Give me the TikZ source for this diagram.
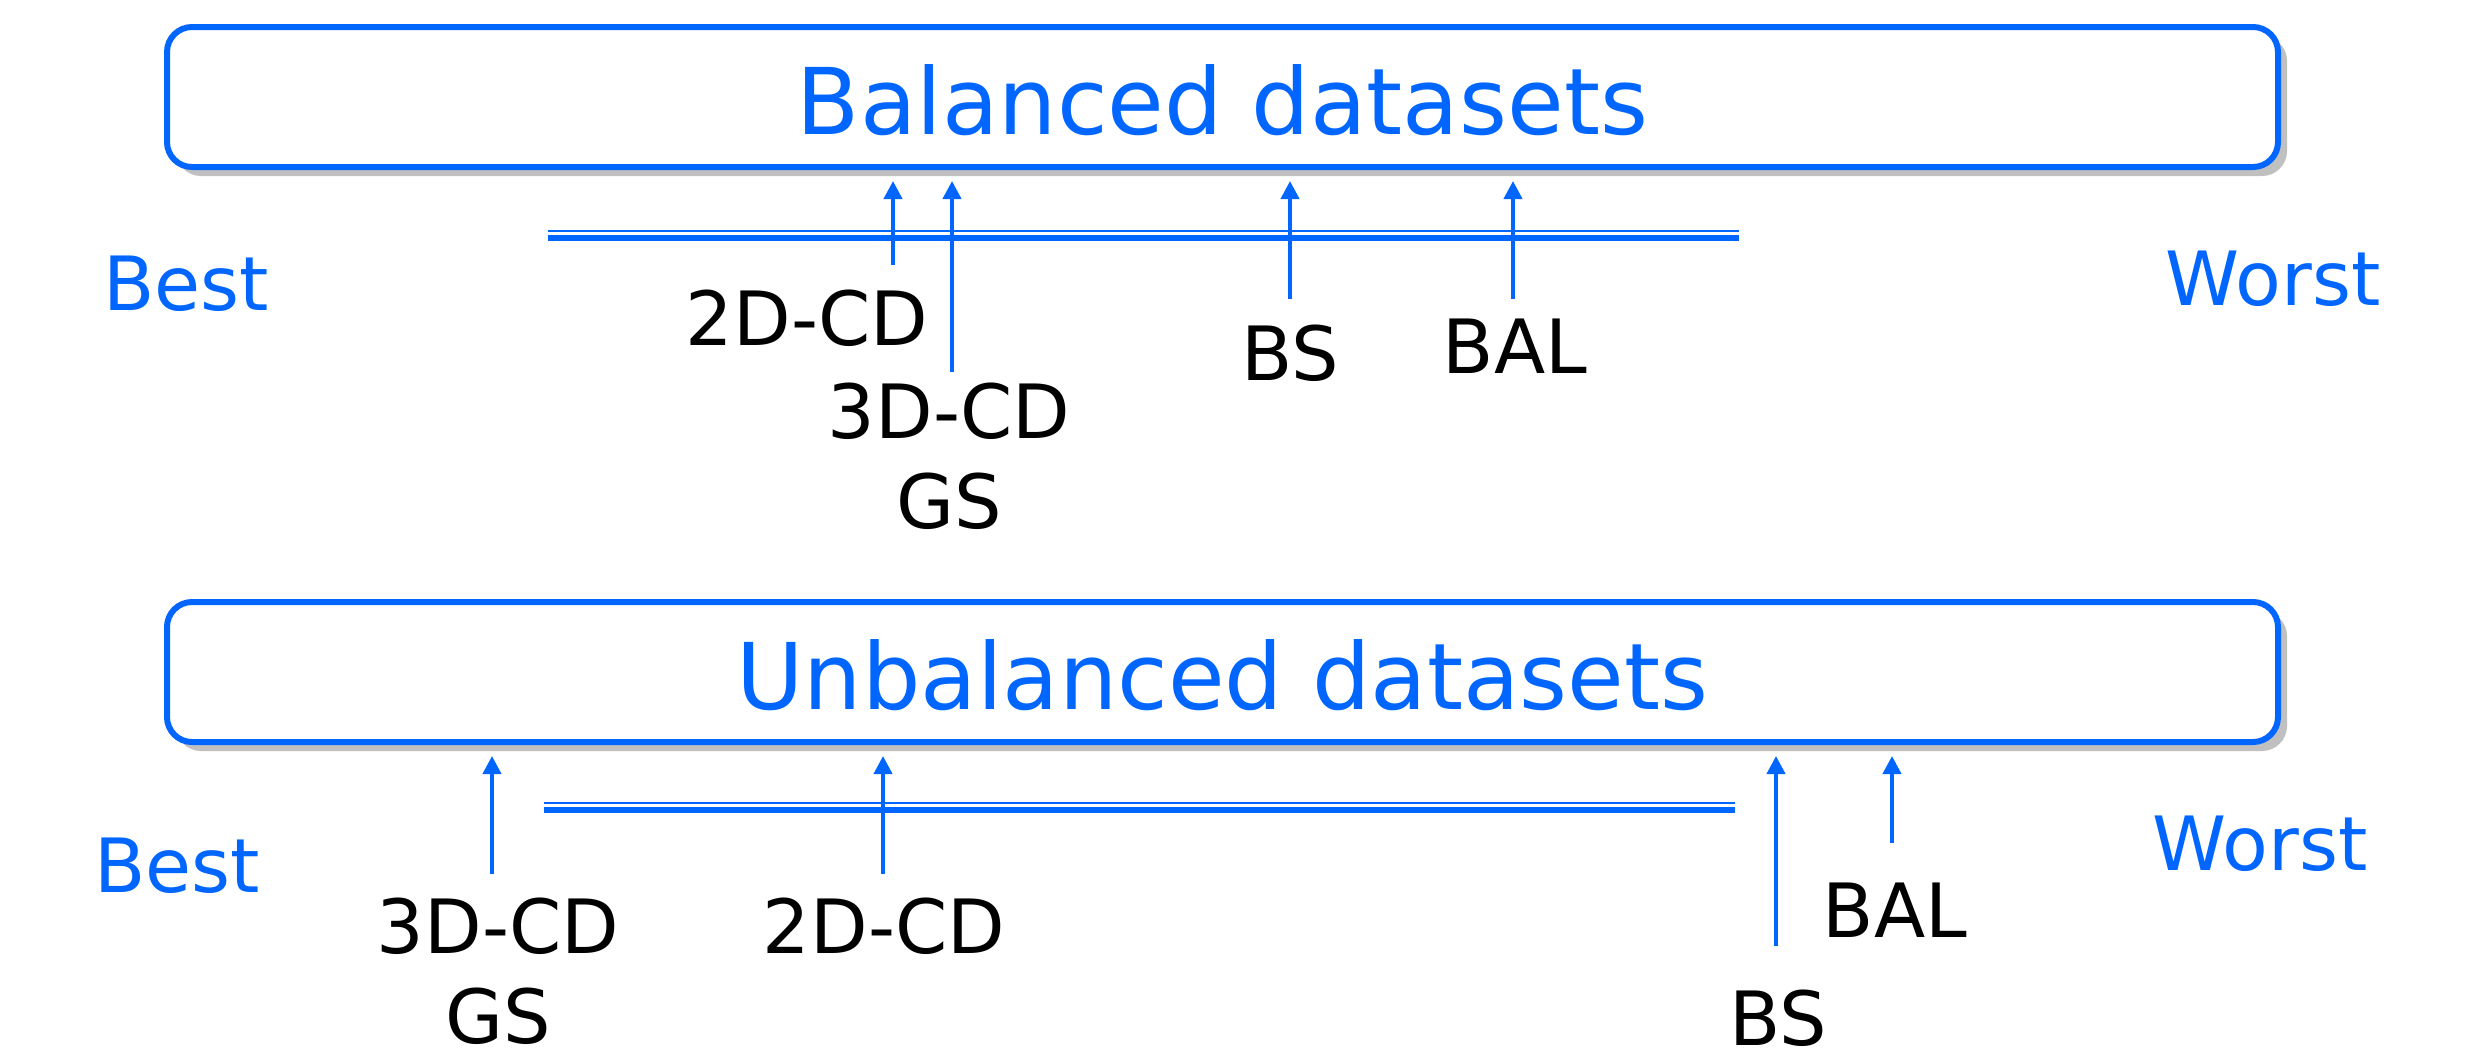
\documentclass[tikz,border=0pt]{standalone}
\usepackage{fontspec}
\setmainfont{DejaVu Sans}
\usetikzlibrary{arrows.meta,shadows}

\definecolor{rankblue}{HTML}{0066FF}
\definecolor{shadowgray}{HTML}{C0C0C0}

\begin{document}
\begin{tikzpicture}[>={Triangle[length=0.18cm,width=0.18cm]},
	every node/.style={font=\fontsize{21.3}{25.5}\selectfont},
	setbox/.style={draw=rankblue, line width=0.06cm, rounded corners=0.25cm, fill=white, text=rankblue,
		minimum width=21.11cm, minimum height=1.4cm, text height=0.76cm, font=\fontsize{26.2}{30}\selectfont,
		drop shadow={shadow xshift=0.09cm, shadow yshift=-0.09cm, fill=shadowgray, opacity=1}},
	endlabel/.style={text=rankblue, anchor=base},
	method/.style={anchor=base, align=center},
	rank/.style={->, rankblue, line width=0.04cm, shorten >=0.11cm},
	thinrule/.style={rankblue, line width=0.023cm},
	thickrule/.style={rankblue, line width=0.067cm}]
	\useasboundingbox (0,0) rectangle (24.74,-10.53);
	% balanced datasets
	\node[setbox] (balanced) at (12.225,-0.97) {Balanced datasets};
	\draw[thinrule] (5.48,-2.307) -- (17.39,-2.307);
	\draw[thickrule] (5.48,-2.38) -- (17.39,-2.38);
	\node[endlabel] (besta) at (1.86,-3.10) {Best};
	\node[endlabel] (worsta) at (22.73,-3.05) {Worst};
	\node[method] (cd2a) at (8.07,-3.45) {2D-CD};
	\node[method] (cd3a) at (9.49,-5.28) {3D-CD\\GS};
	\node[method] (bsa) at (12.90,-3.80) {BS};
	\node[method] (bala) at (15.15,-3.73) {BAL};
	\coordinate (t2da) at (8.93,-2.65);
	\coordinate (t3da) at (9.52,-3.72);
	\coordinate (tbsa) at (12.90,-2.99);
	\coordinate (tbala) at (15.13,-2.99);
	\foreach \t in {t2da,t3da,tbsa,tbala} \draw[rank] (\t) -- (\t |- balanced.south);
	% unbalanced datasets
	\node[setbox] (unbalanced) at (12.225,-6.72) {Unbalanced datasets};
	\draw[thinrule] (5.44,-8.027) -- (17.35,-8.027);
	\draw[thickrule] (5.44,-8.10) -- (17.35,-8.10);
	\node[endlabel] (bestb) at (1.77,-8.92) {Best};
	\node[endlabel] (worstb) at (22.60,-8.70) {Worst};
	\node[method] (cd3b) at (4.98,-10.43) {3D-CD\\GS};
	\node[method] (cd2b) at (8.84,-9.53) {2D-CD};
	\node[method] (balb) at (18.95,-9.37) {BAL};
	\node[method] (bsb) at (17.78,-10.45) {BS};
	\coordinate (t3db) at (4.92,-8.74);
	\coordinate (t2db) at (8.83,-8.74);
	\coordinate (tbsb) at (17.76,-9.46);
	\coordinate (tbalb) at (18.92,-8.43);
	\foreach \t in {t3db,t2db,tbsb,tbalb} \draw[rank] (\t) -- (\t |- unbalanced.south);
\end{tikzpicture}
\end{document}
